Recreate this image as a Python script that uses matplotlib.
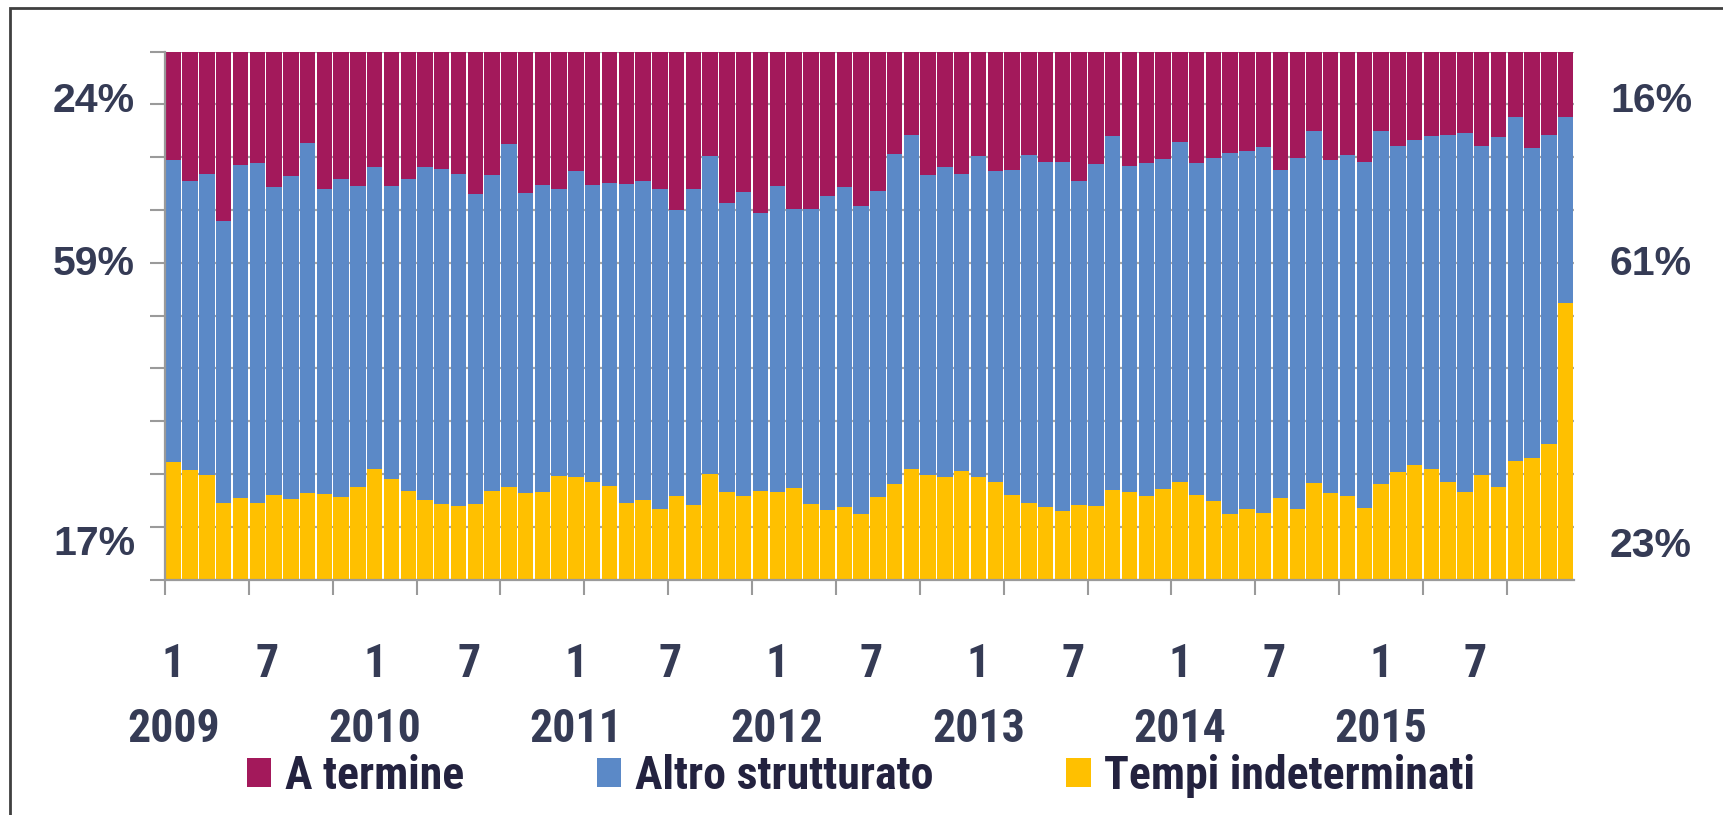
import numpy as np
import matplotlib
matplotlib.use("Agg")
import matplotlib.pyplot as plt
import matplotlib.transforms as mtransforms
from matplotlib.patches import Patch, Rectangle

# ---------------- data (percent shares, monthly 2009-01 .. 2015-12) ----------------
years = [2009, 2010, 2011, 2012, 2013, 2014, 2015]
series_names = ["A termine", "Altro strutturato", "Tempi indeterminati"]

tempi_indeterminati = [
    22.3, 20.8, 19.8, 14.5, 15.5, 14.5, 16.0, 15.3, 16.4, 16.2, 15.6, 17.5,
    20.9, 19.0, 16.8, 15.1, 14.3, 13.9, 14.3, 16.8, 17.5, 16.4, 16.6, 19.6,
    19.4, 18.5, 17.7, 14.5, 15.1, 13.4, 15.8, 14.1, 20.0, 16.6, 15.8, 16.8,
    16.6, 17.3, 14.3, 13.2, 13.7, 12.4, 15.6, 18.1, 20.9, 19.8, 19.4, 20.6,
    19.4, 18.5, 16.0, 14.5, 13.7, 13.0, 14.1, 13.9, 17.0, 16.6, 15.8, 17.2,
    18.5, 16.0, 14.9, 12.4, 13.4, 12.6, 15.5, 13.4, 18.3, 16.4, 15.8, 13.6,
    18.1, 20.4, 21.7, 20.9, 18.5, 16.6, 19.8, 17.5, 22.5, 23.0, 25.7, 52.4,
]
altro_strutturato = [
    57.2, 54.7, 57.0, 53.4, 63.0, 64.4, 58.3, 61.1, 66.3, 57.8, 60.3, 57.1,
    57.2, 55.6, 59.1, 63.0, 63.4, 62.9, 58.7, 59.8, 65.0, 56.8, 58.1, 54.4,
    58.0, 56.2, 57.4, 60.4, 60.4, 60.6, 54.2, 59.9, 60.2, 54.7, 57.6, 52.6,
    58.0, 52.9, 55.9, 59.4, 60.6, 58.4, 58.0, 62.5, 63.3, 56.8, 58.7, 56.2,
    60.8, 58.9, 61.6, 65.9, 65.4, 66.1, 61.4, 64.8, 67.0, 61.7, 63.1, 62.5,
    64.4, 62.9, 64.9, 68.4, 67.8, 69.3, 62.1, 66.5, 66.6, 63.1, 64.6, 65.5,
    66.8, 61.7, 61.5, 63.1, 65.7, 68.0, 62.3, 66.3, 65.1, 58.7, 58.5, 35.2,
]
a_termine = [
    20.5, 24.5, 23.2, 32.1, 21.5, 21.1, 25.7, 23.6, 17.3, 26.0, 24.1, 25.4,
    21.9, 25.4, 24.1, 21.9, 22.3, 23.2, 27.0, 23.4, 17.5, 26.8, 25.3, 26.0,
    22.6, 25.3, 24.9, 25.1, 24.5, 26.0, 30.0, 26.0, 19.8, 28.7, 26.6, 30.6,
    25.4, 29.8, 29.8, 27.4, 25.7, 29.2, 26.4, 19.4, 15.8, 23.4, 21.9, 23.2,
    19.8, 22.6, 22.4, 19.6, 20.9, 20.9, 24.5, 21.3, 16.0, 21.7, 21.1, 20.3,
    17.1, 21.1, 20.2, 19.2, 18.8, 18.1, 22.4, 20.1, 15.1, 20.5, 19.6, 20.9,
    15.1, 17.9, 16.8, 16.0, 15.8, 15.4, 17.9, 16.2, 12.4, 18.3, 15.8, 12.4,
]
# summary labels (2009 average on the left, 2015 average on the right)
left_labels = ["24%", "59%", "17%"]
right_labels = ["16%", "61%", "23%"]
month_labels = ["1", "7"]

# ---------------- style ----------------
C_RED = "#A3195B"
C_BLUE = "#5B89C7"
C_YEL = "#FFC000"
TXT = "#353B55"
LEG_TXT = "#23223F"
GRAY = "#9A9A9A"
NARROW = ["Roboto Condensed", "Roboto", "DejaVu Sans"]
WIDE = ["Liberation Sans", "DejaVu Sans"]

W, H = 1723, 815
fig = plt.figure(figsize=(W / 100, H / 100), dpi=100)
fig.patch.set_facecolor("white")

ax = fig.add_axes([165 / W, 1 - 579.6 / H, (1574 - 165) / W, (579.6 - 51.7) / H])

n = len(tempi_indeterminati)
x = np.arange(n)
t = np.array(tempi_indeterminati)
al = np.array(altro_strutturato)
a = np.array(a_termine)

bw = 0.92
ax.bar(x, t, width=bw, color=C_YEL, linewidth=0, zorder=2)
ax.bar(x, al, bottom=t, width=bw, color=C_BLUE, linewidth=0, zorder=2)
ax.bar(x, a, bottom=t + al, width=bw, color=C_RED, linewidth=0, zorder=2)

ax.set_xlim(-0.5, n - 0.5)
ax.set_ylim(0, 100)

ax.set_axisbelow(True)
ax.yaxis.grid(True, color="#A6A6A6", linewidth=1.6, zorder=0)
ax.set_yticks(np.arange(0, 101, 10))
ax.set_yticklabels([])
ax.tick_params(axis="y", direction="out", length=11, width=1.5, color=GRAY)

for s in ["top", "right"]:
    ax.spines[s].set_visible(False)
for s in ["left", "bottom"]:
    ax.spines[s].set_color(GRAY)
    ax.spines[s].set_linewidth(1.6)

# major ticks: every 5 bars at bar boundaries (no labels)
ax.set_xticks(np.arange(-0.5, n - 0.5, 5))
ax.set_xticklabels([])
ax.tick_params(axis="x", which="major", direction="out", length=11, width=1.5, color=GRAY)

# minor ticks: label positions every 6 months
lab_pos = np.arange(0, n, 6)
labs = []
for k, p in enumerate(lab_pos):
    if k % 2 == 0:
        labs.append(f"{month_labels[0]}\n{years[k // 2]}")
    else:
        labs.append(month_labels[1])
ax.set_xticks(lab_pos, minor=True)
ax.set_xticklabels(labs, minor=True, fontfamily=NARROW, fontweight="bold",
                   fontsize=33, color=TXT, linespacing=1.6)
ax.tick_params(axis="x", which="minor", length=0, pad=45)
# the "7" labels sit slightly left of the bar centre in the reference
shift = mtransforms.ScaledTranslation(-6.5 / 100, 0, fig.dpi_scale_trans)
for k, tl in enumerate(ax.xaxis.get_minorticklabels()):
    if k % 2 == 1:
        tl.set_transform(tl.get_transform() + shift)

# side summary labels
for lab, yy in zip(left_labels, [101, 264, 544]):
    fig.text(94 / W, 1 - yy / H, lab, ha="center", va="center",
             family=WIDE, fontweight="bold", fontsize=29.5, color=TXT)
for lab, yy in zip(right_labels, [101, 264, 546]):
    fig.text(1651 / W, 1 - yy / H, lab, ha="center", va="center",
             family=WIDE, fontweight="bold", fontsize=29.5, color=TXT)

# legend
handles = [Patch(facecolor=C_RED, edgecolor="none"),
           Patch(facecolor=C_BLUE, edgecolor="none"),
           Patch(facecolor=C_YEL, edgecolor="none")]
leg = fig.legend(handles, series_names, loc="center", bbox_to_anchor=(861 / W, 1 - 776 / H),
                 ncol=3, frameon=False, handlelength=0.53, handleheight=0.6,
                 handletextpad=0.3, columnspacing=2.9, borderpad=0, borderaxespad=0,
                 prop={"family": NARROW, "weight": "bold", "size": 33})
for txt in leg.get_texts():
    txt.set_color(LEG_TXT)

# outer frame (extends beyond right/bottom edges)
fig.patches.append(Rectangle((10 / W, -0.2), 1.2, 1.2 - 8 / H, transform=fig.transFigure,
                             fill=False, edgecolor="#404040", linewidth=2))

fig.savefig("out.png", dpi=100, facecolor="white")
